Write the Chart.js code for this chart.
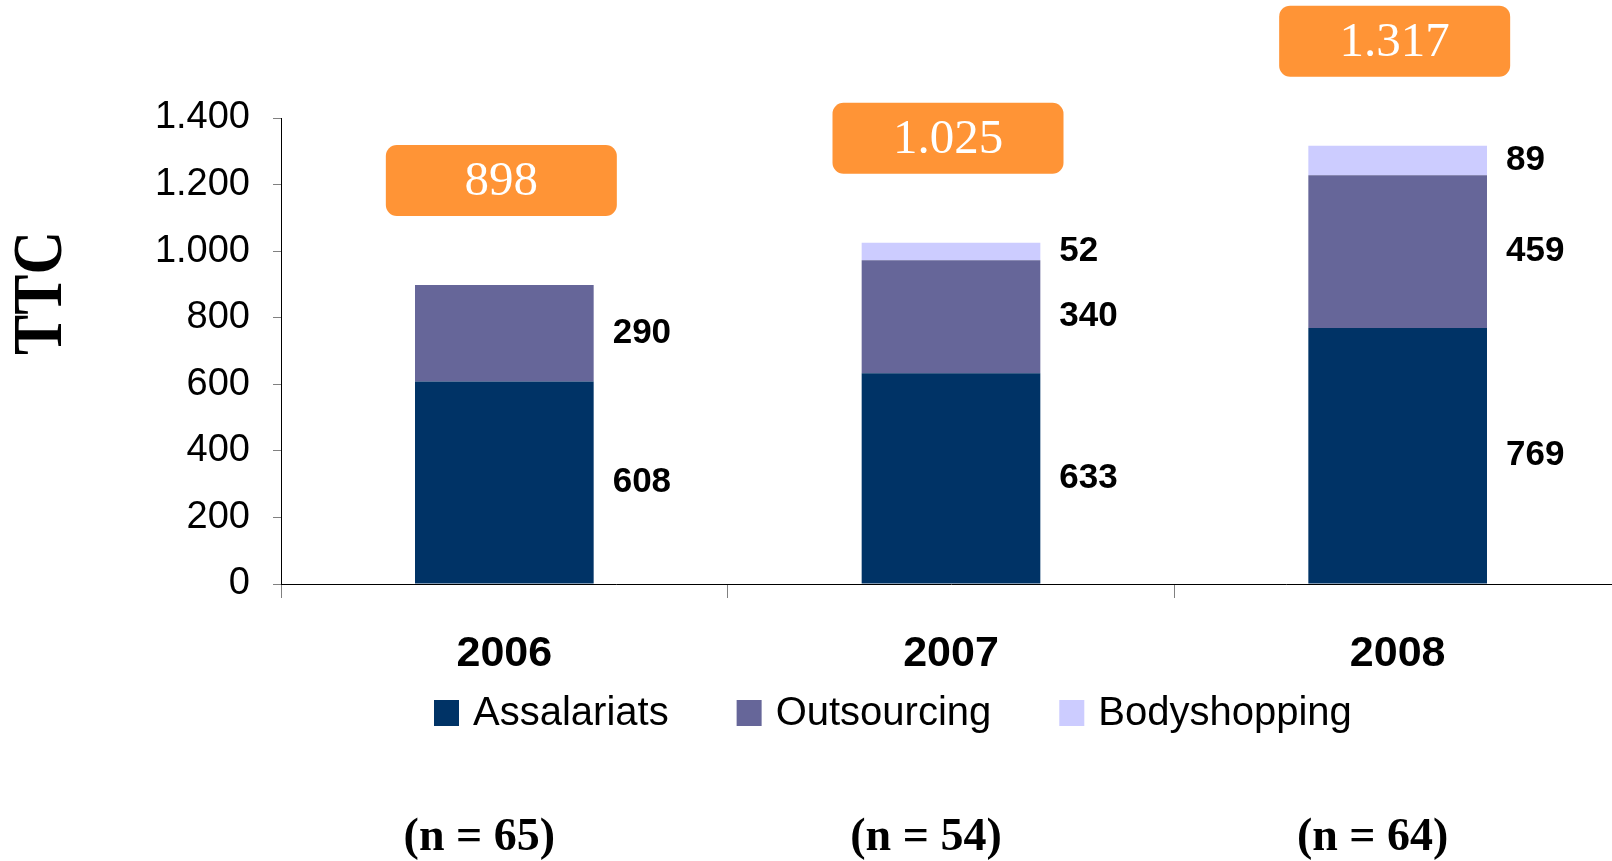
<!DOCTYPE html>
<html>
<head>
<meta charset="utf-8">
<script src="https://cdn.jsdelivr.net/npm/chart.js@4.4.1/dist/chart.umd.min.js"></script>
<style>
  html, body { margin: 0; padding: 0; background: #fff; overflow: hidden; }
  #wrap { width: 1630px; height: 861px; }
</style>
</head>
<body>
<div id="wrap"><canvas id="ttcChart" width="1630" height="861"></canvas></div>
<script>
// dades
const years = ['2006', '2007', '2008'];
const assalariats = [608, 633, 769];
const outsourcing = [290, 340, 459];
const bodyshopping = [0, 52, 89];
const sampleSizes = [65, 54, 64];
const seriesNames = ['Assalariats', 'Outsourcing', 'Bodyshopping'];

const NAVY = '#003366';
const PURPLE = '#666699';
const LILAC = '#CCCCFF';
const ORANGE = '#FF9436';
const SANS = "'Liberation Sans', Arial, sans-serif";
const SERIF = "'Liberation Serif', 'Times New Roman', serif";

const fmt = (v) => String(v).replace(/\B(?=(\d{3})+(?!\d))/g, '.');

// ── etiquetes, caixes de total, llegenda i (n = ..) ──────────────
const overlay = {
  id: 'overlay',
  afterDatasetsDraw(chart) {
    const ctx = chart.ctx;
    ctx.save();
    ctx.font = 'bold 35px ' + SANS;
    ctx.fillStyle = '#000';
    ctx.textAlign = 'left';
    ctx.textBaseline = 'middle';
    chart.data.datasets.forEach((ds, di) => {
      chart.getDatasetMeta(di).data.forEach((bar, i) => {
        if (!ds.data[i]) return;
        ctx.fillText(fmt(ds.data[i]), bar.x + bar.width / 2 + 19, (bar.y + bar.base) / 2);
      });
    });
    ctx.restore();
  },
  afterDraw(chart) {
    const ctx = chart.ctx;
    const x = chart.scales.x;
    const y = chart.scales.y;
    ctx.save();

    // total boxes
    years.forEach((yr, i) => {
      const total = assalariats[i] + outsourcing[i] + bodyshopping[i];
      const cx = x.getPixelForValue(i) - 3;
      const bottom = y.getPixelForValue(total) - 69;
      const w = 231, h = 71;
      ctx.fillStyle = ORANGE;
      ctx.beginPath();
      ctx.roundRect(cx - w / 2, bottom - h, w, h, 11);
      ctx.fill();
      ctx.fillStyle = '#fff';
      ctx.font = '49px ' + SERIF;
      ctx.textAlign = 'center';
      ctx.textBaseline = 'middle';
      ctx.fillText(fmt(total), cx, bottom - h / 2 + 2);
    });

    // (n = ..)
    ctx.fillStyle = '#000';
    ctx.font = 'bold 46px ' + SERIF;
    ctx.textAlign = 'center';
    ctx.textBaseline = 'middle';
    sampleSizes.forEach((n, i) => {
      ctx.fillText('(n = ' + n + ')', x.getPixelForValue(i) - 25, 838);
    });

    // legend
    const colors = [NAVY, PURPLE, LILAC];
    ctx.font = '40px ' + SANS;
    ctx.textAlign = 'left';
    let lx = 434;
    seriesNames.forEach((name, i) => {
      ctx.fillStyle = colors[i];
      ctx.fillRect(lx, 700, 25, 26);
      ctx.fillStyle = '#000';
      ctx.fillText(name, lx + 39, 714);
      lx += 39 + ctx.measureText(name).width + 68;
    });

    // TTC
    ctx.translate(41, 293);
    ctx.rotate(-Math.PI / 2);
    ctx.scale(0.86, 1);
    ctx.font = 'bold 70px ' + SERIF;
    ctx.textAlign = 'center';
    ctx.fillText('TTC', 0, 2);
    ctx.restore();
  },
};

new Chart(document.getElementById('ttcChart'), {
  type: 'bar',
  data: {
    labels: years,
    datasets: [
      { label: seriesNames[0], data: assalariats, backgroundColor: NAVY },
      { label: seriesNames[1], data: outsourcing, backgroundColor: PURPLE },
      { label: seriesNames[2], data: bodyshopping, backgroundColor: LILAC },
    ],
  },
  options: {
    responsive: false,
    animation: false,
    layout: { padding: { top: 118, right: 9, left: 0, bottom: 0 } },
    datasets: { bar: { categoryPercentage: 1, barPercentage: 0.4 } },
    plugins: { legend: { display: false }, tooltip: { enabled: false } },
    scales: {
      x: {
        stacked: true,
        afterFit: (s) => { s.height = 277; },
        border: { color: '#000', width: 1 },
        grid: { offset: true, drawOnChartArea: false, tickLength: 14, color: '#808080' },
        ticks: { color: '#000', padding: 30, font: { family: SANS, size: 43, weight: 'bold' } },
      },
      y: {
        stacked: true,
        min: 0,
        max: 1400,
        afterFit: (s) => { s.width = 281; },
        border: { color: '#000', width: 1 },
        grid: { drawOnChartArea: false, tickLength: 8, color: '#808080' },
        ticks: {
          stepSize: 200,
          color: '#000',
          padding: 23,
          font: { family: SANS, size: 38 },
          callback: (v) => fmt(v),
        },
      },
    },
  },
  plugins: [overlay],
});
</script>
</body>
</html>
